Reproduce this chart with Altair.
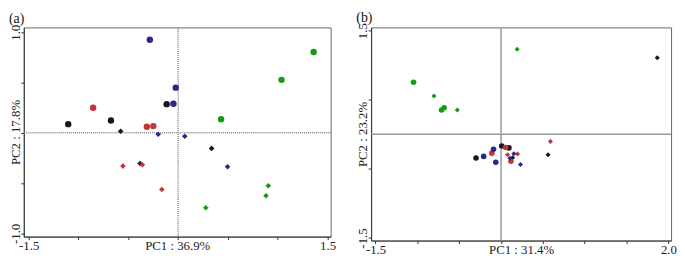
import altair as alt
import pandas as pd

FONT = "Liberation Serif"

# ---- data -------------------------------------------------------------
GROUPS = ["black", "red", "blue", "green"]
GROUP_COLORS = ["#17171f", "#c8323c", "#29298a", "#149c14"]
SHAPES = ["circle", "diamond"]

A_GROUP = ["black"] * 6 + ["red"] * 6 + ["blue"] * 6 + ["green"] * 6
A_SHAPE = (["circle"] * 3 + ["diamond"] * 3) * 4
A_PC1 = [-0.115, -0.674, -1.103, -0.577, 0.336, -0.382,
         -0.853, -0.314, -0.249, -0.554, -0.359, -0.164,
         -0.284, -0.024, -0.047, -0.200, 0.067, 0.496,
         1.360, 1.038, 0.431, 0.905, 0.882, 0.278]
A_PC2 = [0.285, 0.122, 0.086, 0.015, -0.155, -0.305,
         0.250, 0.060, 0.067, -0.331, -0.318, -0.563,
         0.925, 0.449, 0.289, -0.015, -0.034, -0.338,
         0.804, 0.527, 0.135, -0.527, -0.625, -0.745]

B_GROUP = ["black"] * 6 + ["red"] * 6 + ["blue"] * 6 + ["green"] * 6
B_SHAPE = (["circle"] * 3 + ["diamond"] * 3) * 4
B_PC1 = [-0.299, 0.008, 0.094, 0.138, 0.562, 1.867,
         -0.110, 0.055, 0.118, 0.079, 0.197, 0.590,
         -0.208, -0.090, -0.063, 0.106, 0.153, 0.232,
         -1.046, -0.711, -0.680, 0.193, -0.802, -0.523]
B_PC2 = [-0.342, -0.168, -0.196, -0.338, -0.295, 1.108,
         -0.272, -0.191, -0.390, -0.295, -0.286, -0.102,
         -0.319, -0.215, -0.404, -0.347, -0.281, -0.437,
         0.753, 0.352, 0.385, 1.230, 0.555, 0.352]

A_X_TICKS = [-1.5, -1.0, -0.5, 0.0, 0.5, 1.0, 1.5]
A_X_LABELS = {-1.5: "-1.5", 1.5: "1.5"}
A_Y_TICKS = [-1.0, -0.5, 0.0, 0.5, 1.0]
A_Y_LABELS = {-1.0: "-1.0", 1.0: "1.0"}
B_X_TICKS = [-1.5, -1.0, -0.5, 0.0, 0.5, 1.0, 1.5, 2.0]
B_X_LABELS = {-1.5: "-1.5", 2.0: "2.0"}
B_Y_TICKS = [-1.5, -1.0, -0.5, 0.0, 0.5, 1.0, 1.5]
B_Y_LABELS = {-1.5: "-1.5", 1.5: "1.5"}

A_TITLE, A_XTITLE, A_YTITLE = "(a)", "PC1 : 36.9%", "PC2 : 17.8%"
B_TITLE, B_XTITLE, B_YTITLE = "(b)", "PC1 : 31.4%", "PC2 : 23.2%"


def label_expr(labels):
    expr = "''"
    for v, t in labels.items():
        expr = f"datum.value == {v} ? '{t}' : ({expr})"
    return expr


def panel(group, shape, pc1, pc2, xdom, ydom, xticks, xlabels, yticks, ylabels,
          title, xtitle, ytitle, w, h, rule_style, sizes):
    df = pd.DataFrame({"group": group, "shape": shape, "pc1": pc1, "pc2": pc2})
    common = dict(grid=False, domainColor="#333", tickColor="#333", tickSize=3,
                  labelFont=FONT, labelFontSize=13, labelColor="#222",
                  titleFont=FONT, titleFontSize=13, titleFontWeight="normal",
                  titleColor="#222", labelFlush=False, labelOverlap=False)
    xaxis = alt.Axis(values=xticks, labelExpr=label_expr(xlabels), labelPadding=0,
                     title=xtitle, titleX=w / 2, titleY=3, titleBaseline="top",
                     titleAlign="center", **common)
    yaxis = alt.Axis(values=yticks, labelExpr=label_expr(ylabels), labelPadding=1.5,
                     labelAngle=270, labelAlign="center", labelBaseline="alphabetic",
                     title=ytitle, titleAngle=270, titleX=-4.5, titleY=h / 2,
                     titleAlign="center", titleBaseline="alphabetic", **common)
    points = alt.Chart(df).mark_point(filled=True, opacity=1).encode(
        x=alt.X("pc1:Q", scale=alt.Scale(domain=xdom, nice=False, zero=False), axis=xaxis),
        y=alt.Y("pc2:Q", scale=alt.Scale(domain=ydom, nice=False, zero=False), axis=yaxis),
        color=alt.Color("group:N", scale=alt.Scale(domain=GROUPS, range=GROUP_COLORS), legend=None),
        shape=alt.Shape("shape:N", scale=alt.Scale(domain=SHAPES, range=SHAPES), legend=None),
        size=alt.Size("shape:N", scale=alt.Scale(domain=SHAPES, range=sizes), legend=None),
    )
    vrule = alt.Chart(pd.DataFrame({"o": [0]})).mark_rule(**rule_style).encode(x=alt.datum(0))
    hrule = alt.Chart(pd.DataFrame({"o": [0]})).mark_rule(**rule_style).encode(y=alt.datum(0))
    return alt.layer(vrule, hrule, points).properties(
        width=w, height=h,
        title=alt.TitleParams(title, anchor="start", frame="group", dx=-15, offset=-2,
                              font=FONT, fontSize=14, fontWeight="normal", color="#111"),
    ).resolve_scale(size="independent")


pa = panel(A_GROUP, A_SHAPE, A_PC1, A_PC2, [-1.549, 1.531], [-1.032, 1.048],
           A_X_TICKS, A_X_LABELS, A_Y_TICKS, A_Y_LABELS, A_TITLE, A_XTITLE, A_YTITLE,
           311, 212, dict(color="#888", strokeWidth=1.5, strokeDash=[1, 1]), [42, 32])
pb = panel(B_GROUP, B_SHAPE, B_PC1, B_PC2, [-1.553, 2.032], [-1.537, 1.547],
           B_X_TICKS, B_X_LABELS, B_Y_TICKS, B_Y_LABELS, B_TITLE, B_XTITLE, B_YTITLE,
           304, 216, dict(color="#999", strokeWidth=1.5), [32, 26])

chart = alt.hconcat(pa, pb, spacing=41, bounds="flush").resolve_scale(
    x="independent", y="independent", size="independent"
).configure_view(stroke="#666", strokeWidth=1).properties(padding=0)

chart.save("out.html", embed_options={"renderer": "svg", "actions": False})
